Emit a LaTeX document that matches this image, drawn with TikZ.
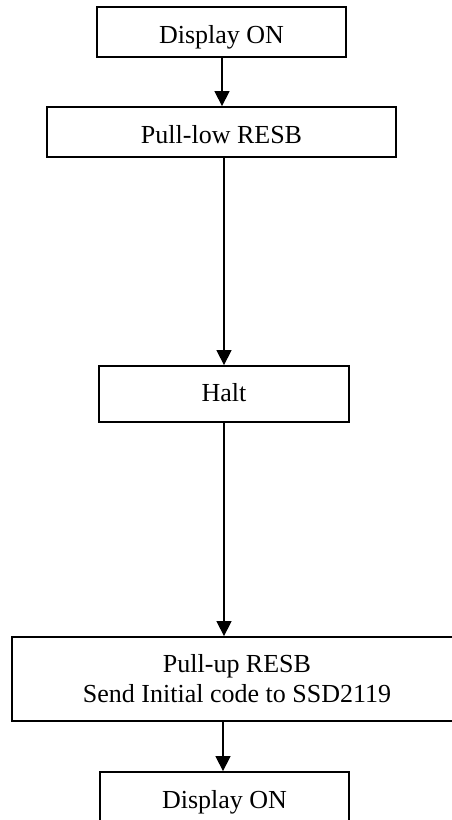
\documentclass[tikz,border=0pt]{standalone}
\usepackage{fontspec}
\setmainfont{Liberation Serif}
\usetikzlibrary{arrows.meta}
\begin{document}
\begin{tikzpicture}[
  stepbox/.style={draw, line width=1.8pt, rectangle, inner sep=0pt,
    font=\fontsize{26}{30}\selectfont, text height=22pt, text depth=0pt},
  flow/.style={line width=1.3pt, -{Triangle[length=15pt,width=15pt]}}
]
\useasboundingbox (0,0) rectangle (452pt,-820pt);
\clip (0,0) rectangle (452pt,-820pt);
\node[stepbox, minimum width=249pt, minimum height=50pt] (b1) at (221.5pt,-32pt) {Display ON};
\node[stepbox, minimum width=349pt, minimum height=50pt] (b2) at (221.5pt,-132pt) {Pull-low RESB};
\node[stepbox, minimum width=250pt, minimum height=56pt, text height=14pt] (b3) at (224pt,-394pt) {Halt};
\node[stepbox, minimum width=450pt, minimum height=84pt, align=center, text height=, text depth=] (b4) at (237pt,-679pt) {Pull-up RESB\\Send Initial code to SSD2119};
\node[stepbox, minimum width=249pt, minimum height=50pt] (b5) at (224.5pt,-797pt) {Display ON};
\draw[flow] ([xshift=0.5pt]b1.south) -- ([xshift=0.5pt]b2.north);
\draw[flow] (b2.south -| b3.north) -- (b3.north);
\draw[flow] (b3.south) -- (b4.north -| b3.south);
\draw[flow] ([xshift=-1.5pt]b4.south -| b5.north) -- ([xshift=-1.5pt]b5.north);
\end{tikzpicture}
\end{document}
